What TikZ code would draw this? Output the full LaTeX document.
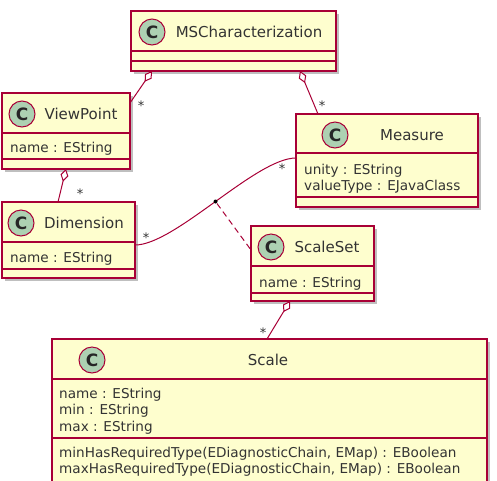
\documentclass[tikz,border=0pt]{standalone}
\usepackage{fontspec}
\setmainfont{DejaVu Sans}
\usetikzlibrary{arrows.meta,shadows}
\definecolor{umlfill}{HTML}{FEFECE}
\definecolor{umlborder}{HTML}{A80036}
\definecolor{spotfill}{HTML}{ADD1B2}
\tikzset{%
  % Specifications for style of nodes:
      classbox/.style = {rectangle, draw=umlborder, fill=umlfill, line width=1.2pt,
                         inner sep=0pt, outer sep=0pt, anchor=north west,
                         drop shadow={shadow xshift=3pt, shadow yshift=-3pt,
                                      opacity=0.25, fill=black}},
     classname/.style = {font=\fontsize{15}{18}\selectfont, text=black!80, inner sep=0pt},
          spot/.style = {circle, draw=umlborder, fill=spotfill, line width=1pt,
                         minimum size=26pt, inner sep=0pt, text=black!85,
                         font=\fontsize{17}{20}\selectfont\bfseries},
     attribute/.style = {font=\fontsize{13.6}{16.3}\selectfont, text=black!80,
                         inner sep=0pt, anchor=base west},
          mult/.style = {font=\fontsize{13}{16}\selectfont, text=black!80, inner sep=0pt},
       umlline/.style = {draw=umlborder, line width=1pt},
       sepline/.style = {draw=umlborder, line width=1.2pt},
          aggr/.style = {umlline, {Diamond[fill=white, length=13pt, width=8pt]}-},
      assocdot/.style = {circle, fill=black, minimum size=4pt, inner sep=0pt},
}

\begin{document}
\begin{tikzpicture}[x=1pt, y=-1pt]
  \useasboundingbox (0,0) rectangle (497,480);
  % Specification of class boxes
  \node (mschar)    [classbox, minimum width=205pt, minimum height=60pt] at (131,11) {};
  \node (viewpoint) [classbox, minimum width=128pt, minimum height=76pt] at (2,93) {};
  \node (dimension) [classbox, minimum width=133pt, minimum height=76pt] at (2,202) {};
  \node (measure)   [classbox, minimum width=182pt, minimum height=93pt] at (296,114) {};
  \node (scaleset)  [classbox, minimum width=123pt, minimum height=75pt] at (251,226) {};
  \node (scale)     [classbox, minimum width=435pt, minimum height=145pt] at (52,339) {};

  % compartments
  \draw[sepline] ([yshift=-40pt]mschar.north west) -- ([yshift=-40pt]mschar.north east);
  \draw[sepline] ([yshift=-50pt]mschar.north west) -- ([yshift=-50pt]mschar.north east);
  \draw[sepline] ([yshift=-40pt]viewpoint.north west) -- ([yshift=-40pt]viewpoint.north east);
  \draw[sepline] ([yshift=-66pt]viewpoint.north west) -- ([yshift=-66pt]viewpoint.north east);
  \draw[sepline] ([yshift=-40pt]dimension.north west) -- ([yshift=-40pt]dimension.north east);
  \draw[sepline] ([yshift=-67pt]dimension.north west) -- ([yshift=-67pt]dimension.north east);
  \draw[sepline] ([yshift=-39pt]measure.north west) -- ([yshift=-39pt]measure.north east);
  \draw[sepline] ([yshift=-83pt]measure.north west) -- ([yshift=-83pt]measure.north east);
  \draw[sepline] ([yshift=-40pt]scaleset.north west) -- ([yshift=-40pt]scaleset.north east);
  \draw[sepline] ([yshift=-67pt]scaleset.north west) -- ([yshift=-67pt]scaleset.north east);
  \draw[sepline] ([yshift=-40pt]scale.north west) -- ([yshift=-40pt]scale.north east);
  \draw[sepline] ([yshift=-99pt]scale.north west) -- ([yshift=-99pt]scale.north east);

  % headers
  \node (mschar-spot)    [spot] at (152,32) {C};
  \node (mschar-name)    [classname] at (249,32) {MSCharacterization};
  \node (viewpoint-spot) [spot] at (22,114) {C};
  \node (viewpoint-name) [classname] at (81,114) {ViewPoint};
  \node (dimension-spot) [spot] at (21,223) {C};
  \node (dimension-name) [classname] at (84,223) {Dimension};
  \node (measure-spot)   [spot] at (335,135) {C};
  \node (measure-name)   [classname] at (412,135) {Measure};
  \node (scaleset-spot)  [spot] at (271,247) {C};
  \node (scaleset-name)  [classname] at (327,247) {ScaleSet};
  \node (scale-spot)     [spot] at (92,360) {C};
  \node (scale-name)     [classname] at (268,360) {Scale};

  % attributes and operations
  \node (viewpoint-attr) [attribute] at (10,152) {name : EString};
  \node (dimension-attr) [attribute] at (10,262) {name : EString};
  \node (measure-unity)  [attribute] at (304,174) {unity : EString};
  \node (measure-type)   [attribute] at (304,190) {valueType : EJavaClass};
  \node (scaleset-attr)  [attribute] at (259,287) {name : EString};
  \node (scale-name-a)   [attribute] at (59,398) {name : EString};
  \node (scale-min)      [attribute] at (59,414) {min : EString};
  \node (scale-max)      [attribute] at (59,431) {max : EString};
  \node (scale-minop)    [attribute] at (59,457) {minHasRequiredType(EDiagnosticChain, EMap) : EBoolean};
  \node (scale-maxop)    [attribute] at (59,473) {maxHasRequiredType(EDiagnosticChain, EMap) : EBoolean};

  % associations
  \draw[aggr] ([xshift=21pt]mschar.south west) -- ([yshift=-10pt]viewpoint.north east);
  \draw[aggr] ([xshift=169pt]mschar.south west) -- ([xshift=22pt]measure.north west);
  \draw[aggr] ([xshift=64pt]viewpoint.south west) -- ([xshift=56pt]dimension.north west);
  \draw[aggr] ([xshift=39pt]scaleset.south west) -- ([xshift=215pt]scale.north west);
  \draw[umlline] ([yshift=-43pt]dimension.north east) .. controls +(40,0) and +(-40,0) ..
                 ([yshift=-44pt]measure.north west) node[assocdot, pos=0.5] (assoc) {};
  \draw[umlline, dash pattern=on 6pt off 4pt] (assoc) -- ([yshift=-24pt]scaleset.north west);

  % multiplicities
  \node (m-viewpoint) [mult] at (141,106) {*};
  \node (m-measure)   [mult] at (322,106) {*};
  \node (m-dimension) [mult] at (80,194) {*};
  \node (m-dim-meas)  [mult] at (146,238) {*};
  \node (m-meas-dim)  [mult] at (282,169) {*};
  \node (m-scale)     [mult] at (263,333) {*};
\end{tikzpicture}
\end{document}
